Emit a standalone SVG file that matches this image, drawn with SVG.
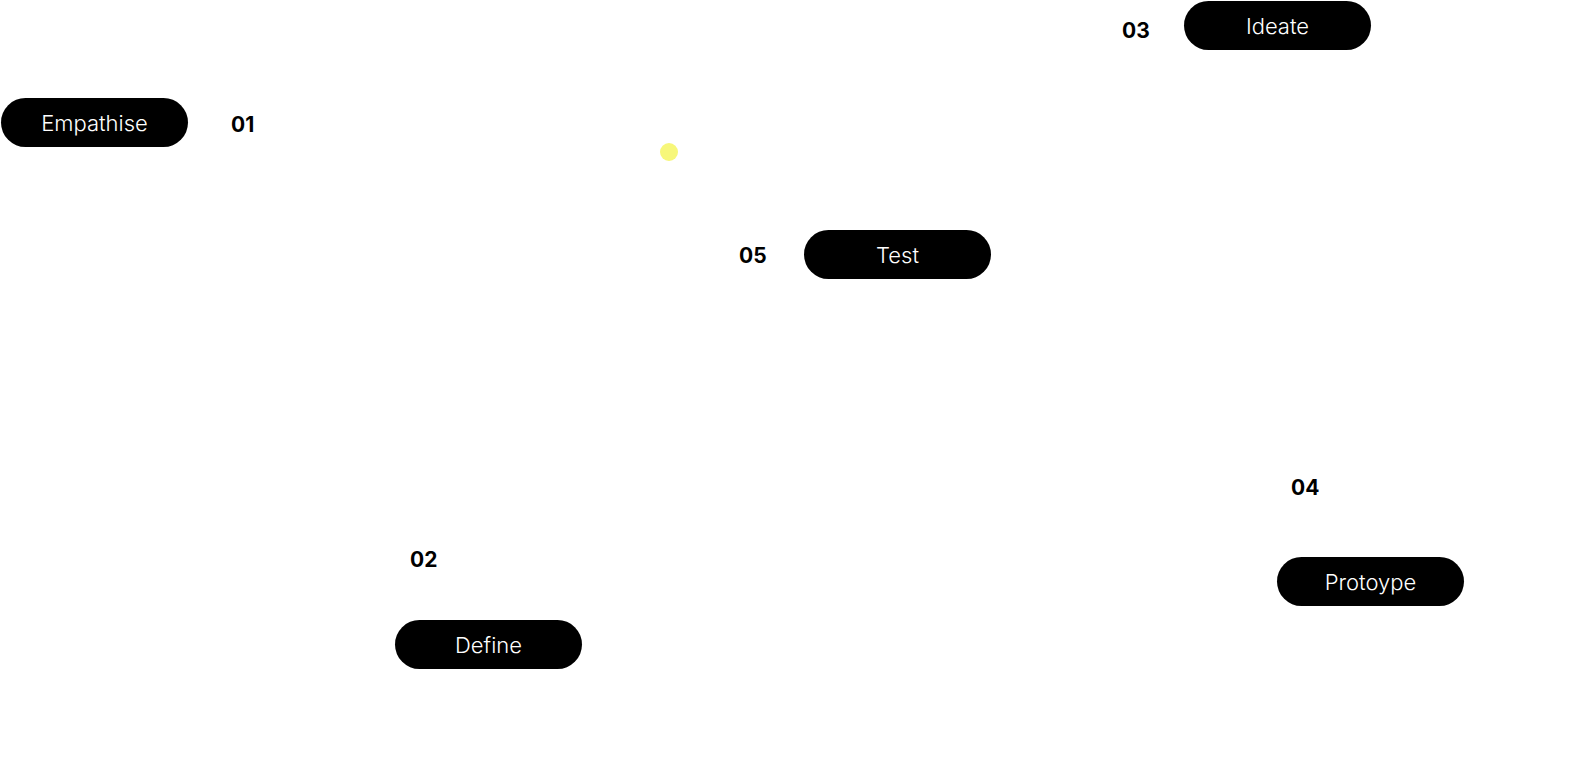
<svg xmlns="http://www.w3.org/2000/svg" width="1582" height="763" viewBox="0 0 1582 763">
<style>
.pill{fill:#000}
.pt{fill:#fff;font-family:Inter,"Noto Sans",sans-serif;font-weight:300;font-size:22px;text-anchor:middle;dominant-baseline:central}
.num{fill:#000;font-family:Inter,"Noto Sans",sans-serif;font-weight:700;font-size:21px}
</style>
<rect width="1582" height="763" fill="#fff"/>
<g id="connectors"></g>
<circle id="dot" cx="669" cy="152" r="9" fill="#f7f77a"/>
<g id="empathise">
<rect class="pill" x="1" y="98" width="187" height="49" rx="24.5"/>
<text class="pt" x="94.5" y="123">Empathise</text>
<text class="num" x="231" y="132">01</text>
</g>
<g id="define">
<rect class="pill" x="395" y="620" width="187" height="49" rx="24.5"/>
<text class="pt" x="488.5" y="645">Define</text>
<text class="num" x="410" y="567">02</text>
</g>
<g id="ideate">
<rect class="pill" x="1184" y="1" width="187" height="49" rx="24.5"/>
<text class="pt" x="1277.5" y="26">Ideate</text>
<text class="num" x="1122" y="38">03</text>
</g>
<g id="prototype">
<rect class="pill" x="1277" y="557" width="187" height="49" rx="24.5"/>
<text class="pt" x="1370.5" y="582">Protoype</text>
<text class="num" x="1291" y="495">04</text>
</g>
<g id="test">
<rect class="pill" x="804" y="230" width="187" height="49" rx="24.5"/>
<text class="pt" x="897.5" y="255">Test</text>
<text class="num" x="739" y="263">05</text>
</g>
</svg>
